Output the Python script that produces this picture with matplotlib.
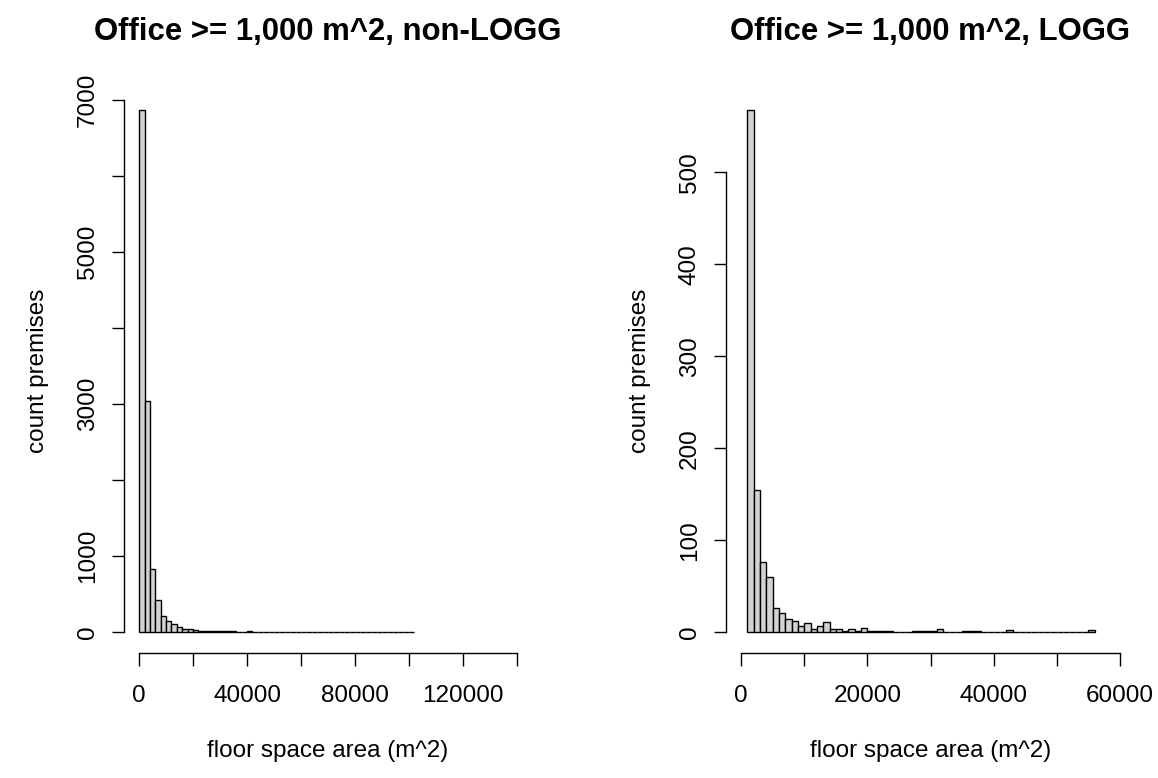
import matplotlib
matplotlib.use("Agg")
import matplotlib.pyplot as plt
import numpy as np

plt.rcParams['font.family'] = ['Liberation Sans', 'DejaVu Sans']

# ---------------- data ----------------
left_title = "Office >= 1,000 m^2, non-LOGG"
right_title = "Office >= 1,000 m^2, LOGG"
x_label = "floor space area (m^2)"
y_label = "count premises"

# non-LOGG: bins of 2000 m^2 starting at 0
left_bin_start = 0
left_bin_width = 2000
left_counts = [6870, 3040, 830, 425, 214, 150, 105, 70, 45, 38,
               22, 18, 15, 14, 12, 11, 10, 9, 0, 0,
               12, 0, 0, 0, 0, 0, 0, 0, 0, 0,
               0, 0, 0, 0, 0, 0, 0, 0, 0, 0,
               0, 0, 0, 0, 0, 0, 0, 0, 0, 0,
               0]

# LOGG: bins of 1000 m^2 starting at 1000
right_bin_start = 1000
right_bin_width = 1000
right_counts = [568, 155, 76, 60, 26, 21, 14, 12, 7, 10,
                3, 7, 11, 3, 3, 1, 3, 1, 5,
                1, 1, 1, 1,
                0, 0, 0,
                1, 1, 1, 1,
                3,
                0, 0, 0,
                1, 1, 1,
                0, 0, 0, 0,
                2,
                0, 0, 0, 0, 0, 0, 0, 0, 0, 0, 0, 0,
                2]

left_xticks = [0, 20000, 40000, 60000, 80000, 100000, 120000, 140000]
left_xticklabels = ["0", "", "40000", "", "80000", "", "120000", ""]
left_yticks = [0, 1000, 2000, 3000, 4000, 5000, 6000, 7000]
left_yticklabels = ["0", "1000", "", "3000", "", "5000", "", "7000"]
left_xlim = (0, 140000)

right_xticks = [0, 10000, 20000, 30000, 40000, 50000, 60000]
right_xticklabels = ["0", "", "20000", "", "40000", "", "60000"]
right_yticks = [0, 100, 200, 300, 400, 500]
right_yticklabels = ["0", "100", "200", "300", "400", "500"]
right_xlim = (0, 60000)

# ---------------- figure ----------------
W, H = 1158, 778
fig = plt.figure(figsize=(W / 100, H / 100), dpi=100)

FS = 17.5
TFS = 22.4


def make_panel(px_left, px_right, px_top, px_bottom, start, width, counts,
               xlim, xticks, xticklabels, yticks, yticklabels, title):
    ax = fig.add_axes([px_left / W, 1 - px_bottom / H,
                       (px_right - px_left) / W, (px_bottom - px_top) / H])
    counts = np.asarray(counts, dtype=float)
    edges = start + width * np.arange(len(counts) + 1)
    ax.bar(edges[:-1], counts, width=width, align='edge',
           facecolor='#d3d3d3', edgecolor='black', linewidth=1.0)
    # R-style 4% expansion
    xr = xlim[1] - xlim[0]
    ax.set_xlim(xlim[0] - 0.04 * xr, xlim[1] + 0.04 * xr)
    ymax = counts.max()
    ax.set_ylim(-0.04 * ymax, ymax * 1.04)
    for s in ['top', 'right']:
        ax.spines[s].set_visible(False)
    ax.spines['bottom'].set_bounds(xticks[0], xticks[-1])
    ax.spines['left'].set_bounds(yticks[0], yticks[-1])
    for s in ['bottom', 'left']:
        ax.spines[s].set_linewidth(1.0)
    ax.set_xticks(xticks)
    ax.set_xticklabels(xticklabels, fontsize=FS)
    ax.set_yticks(yticks)
    ax.set_yticklabels(yticklabels, fontsize=FS, rotation=90, va='center')
    ax.tick_params(axis='both', direction='out', length=9, width=1.0)
    ax.tick_params(axis='x', pad=14)
    ax.tick_params(axis='y', pad=9)
    ax.set_xlabel(x_label, fontsize=FS, labelpad=24)
    ax.set_ylabel(y_label, fontsize=FS, labelpad=20)
    ax.set_title(title, fontsize=TFS, fontweight='bold', pad=35)
    ax.patch.set_visible(False)
    return ax


make_panel(124, 532, 89, 653, left_bin_start, left_bin_width, left_counts,
           left_xlim, left_xticks, left_xticklabels, left_yticks,
           left_yticklabels, left_title)
make_panel(726, 1135, 89, 653, right_bin_start, right_bin_width, right_counts,
           right_xlim, right_xticks, right_xticklabels, right_yticks,
           right_yticklabels, right_title)

fig.savefig("out.png", dpi=100)
